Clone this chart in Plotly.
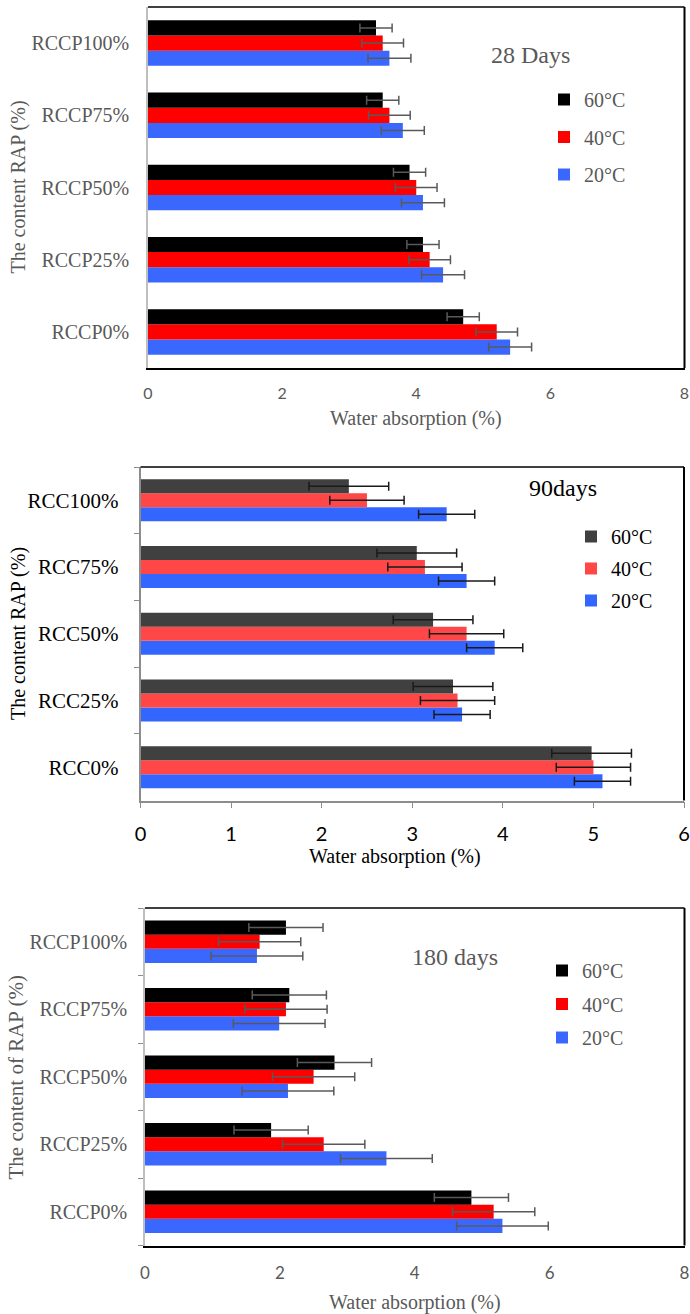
import plotly.graph_objects as go

W, H = 690, 1314

# ---------------- data ----------------
temps = ["20°C", "40°C", "60°C"]
legend_ranks = [3, 2, 1]

cats_28 = ["RCCP0%", "RCCP25%", "RCCP50%", "RCCP75%", "RCCP100%"]
d28_20 = [5.4, 4.4, 4.1, 3.8, 3.6]
d28_40 = [5.2, 4.2, 4.0, 3.6, 3.5]
d28_60 = [4.7, 4.1, 3.9, 3.5, 3.4]
e28_20 = [0.32, 0.32, 0.32, 0.32, 0.32]
e28_40 = [0.31, 0.31, 0.31, 0.31, 0.31]
e28_60 = [0.24, 0.24, 0.24, 0.24, 0.24]

cats_90 = ["RCC0%", "RCC25%", "RCC50%", "RCC75%", "RCC100%"]
d90_20 = [5.1, 3.55, 3.91, 3.6, 3.38]
d90_40 = [5.0, 3.5, 3.6, 3.14, 2.5]
d90_60 = [4.98, 3.45, 3.23, 3.05, 2.3]
e90_20 = [0.31, 0.31, 0.31, 0.31, 0.31]
e90_40 = [0.41, 0.41, 0.41, 0.41, 0.41]
e90_60 = [0.44, 0.44, 0.44, 0.44, 0.44]

cats_180 = ["RCCP0%", "RCCP25%", "RCCP50%", "RCCP75%", "RCCP100%"]
d180_20 = [5.3, 3.58, 2.12, 1.99, 1.66]
d180_40 = [5.17, 2.65, 2.5, 2.09, 1.70]
d180_60 = [4.84, 1.87, 2.81, 2.14, 2.09]
e180_20 = [0.68, 0.68, 0.68, 0.68, 0.68]
e180_40 = [0.61, 0.61, 0.61, 0.61, 0.61]
e180_60 = [0.55, 0.55, 0.55, 0.55, 0.55]

x_ticks_28 = [0, 2, 4, 6, 8]
x_ticks_90 = [0, 1, 2, 3, 4, 5, 6]
x_ticks_180 = [0, 2, 4, 6, 8]

# ---------------- styles ----------------
SERIF = "Liberation Serif"
SANS = "Lato"
GRAY_TXT = "#595959"

def px_x(p):
    return p / W

def px_y(p):
    return 1 - p / H

panels = [
    dict(cats=cats_28, vals=[d28_20, d28_40, d28_60], errs=[e28_20, e28_40, e28_60],
         colors=["#3A68FF", "#FF0000", "#000000"], errc="#595959",
         xd=[148, 684.5], yd=[7, 368], xr=[0, 8], ticks=x_ticks_28,
         txt=GRAY_TXT, legend="legend", xlinec="#000000", ylinec="#BFBFBF",
         yticks="", xticks="", tickfs=16, catfs=20, ystand=13, xstand=10),
    dict(cats=cats_90, vals=[d90_20, d90_40, d90_60], errs=[e90_20, e90_40, e90_60],
         colors=["#3366FF", "#FF4747", "#404040"], errc="#1a1a1a",
         xd=[140.5, 684], yd=[467, 800.5], xr=[0, 6], ticks=x_ticks_90,
         txt="#000000", legend="legend2", xlinec="#8C8C8C", ylinec="#8C8C8C",
         yticks="outside", xticks="outside", tickfs=20, catfs=21, ystand=16, xstand=9),
    dict(cats=cats_180, vals=[d180_20, d180_40, d180_60], errs=[e180_20, e180_40, e180_60],
         colors=["#3A68FF", "#FF0000", "#000000"], errc="#595959",
         xd=[145, 684.5], yd=[908, 1245.5], xr=[0, 8], ticks=x_ticks_180,
         txt=GRAY_TXT, legend="legend3", xlinec="#000000", ylinec="#BFBFBF",
         yticks="outside", xticks="", tickfs=17, catfs=20, ystand=12, xstand=11),
]

fig = go.Figure()
layout = {}
shapes = []

for i, p in enumerate(panels):
    n = "" if i == 0 else str(i + 1)
    xa, ya = "x" + n, "y" + n
    for k in range(3):
        fig.add_trace(go.Bar(
            x=p["vals"][k], y=p["cats"], orientation="h",
            name=temps[k], marker=dict(color=p["colors"][k], line=dict(width=0)),
            error_x=dict(type="data", array=p["errs"][k], color=p["errc"],
                         thickness=1.5, width=4.5),
            xaxis=xa, yaxis=ya, legend=p["legend"],
            legendgroup=p["legend"] + temps[k], legendrank=legend_ranks[k],
        ))
    layout["xaxis" + n] = dict(
        domain=[px_x(p["xd"][0]), px_x(p["xd"][1])], range=p["xr"], anchor=ya,
        tickvals=p["ticks"], showgrid=False, zeroline=False,
        showline=True, linecolor=p["xlinec"], linewidth=2 if i != 1 else 1.5,
        ticks=p["xticks"], ticklen=6, tickcolor="#8C8C8C",
        tickfont=dict(family=SANS, size=p["tickfs"], color=p["txt"]),
        ticklabelstandoff=p["xstand"], fixedrange=True, automargin=False,
    )
    layout["yaxis" + n] = dict(
        domain=[px_y(p["yd"][1]), px_y(p["yd"][0])], anchor=xa,
        type="category", categoryorder="array", categoryarray=p["cats"],
        showgrid=False, showline=True, linecolor=p["ylinec"], linewidth=1.5,
        ticks=p["yticks"], tickson="boundaries", ticklen=5, tickcolor="#8C8C8C",
        tickfont=dict(family=SERIF, size=p["catfs"], color=p["txt"]),
        ticklabelstandoff=p["ystand"], fixedrange=True, automargin=False,
    )
    # top and right frame lines
    shapes.append(dict(type="line", xref=xa + " domain", yref=ya + " domain",
                       x0=0, x1=1, y0=1, y1=1, line=dict(color="#000000", width=1.5)))
    shapes.append(dict(type="line", xref=xa + " domain", yref=ya + " domain",
                       x0=1, x1=1, y0=0, y1=1, line=dict(color="#000000", width=2)))

leg_common = dict(traceorder="grouped", bgcolor="rgba(0,0,0,0)",
                  xanchor="left", yanchor="top", itemclick=False, itemdoubleclick=False)
layout["legend"] = dict(leg_common, x=px_x(544), y=px_y(80), tracegroupgap=8.5,
                        font=dict(family=SERIF, size=20, color=GRAY_TXT))
layout["legend2"] = dict(leg_common, x=px_x(571), y=px_y(517), tracegroupgap=3,
                         font=dict(family=SERIF, size=20, color="#000000"))
layout["legend3"] = dict(leg_common, x=px_x(542), y=px_y(951), tracegroupgap=4.5,
                         font=dict(family=SERIF, size=20, color=GRAY_TXT))

def ann(text, x, y, size, color, angle=0):
    return dict(text=text, x=px_x(x), y=px_y(y), xref="paper", yref="paper",
                showarrow=False, xanchor="center", yanchor="middle", textangle=angle,
                font=dict(family=SERIF, size=size, color=color))

annotations = [
    ann("The content RAP (%)", 18.5, 187, 20, GRAY_TXT, -90),
    ann("Water absorption (%)", 416, 418, 20, GRAY_TXT),
    ann("28 Days", 530, 55, 24, GRAY_TXT),
    ann("The content RAP (%)", 18, 634, 20, "#000000", -90),
    ann("Water absorption (%)", 395, 856, 20, "#000000"),
    ann("90days", 563, 488, 24, "#000000"),
    ann("The content of RAP (%)", 15.5, 1077, 21, GRAY_TXT, -90),
    ann("Water absorption (%)", 415, 1302, 20, GRAY_TXT),
    ann("180 days", 455, 957, 24, GRAY_TXT),
]

fig.update_layout(
    width=W, height=H,
    margin=dict(l=0, r=0, t=0, b=0, pad=0, autoexpand=False),
    paper_bgcolor="white", plot_bgcolor="white",
    barmode="group", bargap=0.37, bargroupgap=0,
    showlegend=True, shapes=shapes, annotations=annotations,
    font=dict(family=SERIF),
    **layout,
)

fig.write_html(
    "out.html",
    config={"displayModeBar": False},
    post_script="document.body.style.margin='0';document.body.style.overflow='hidden';",
)
